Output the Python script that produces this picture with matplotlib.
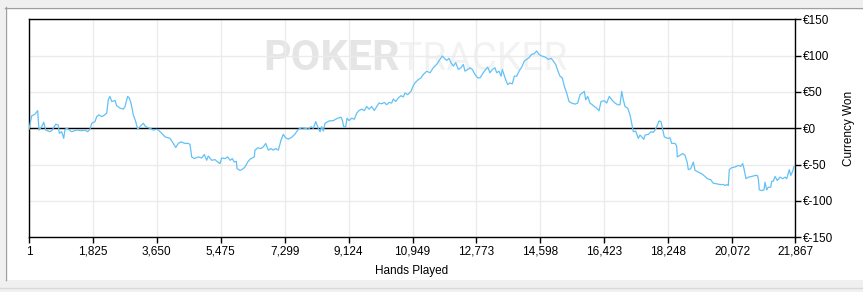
import matplotlib.pyplot as plt
from matplotlib.patches import Rectangle
from matplotlib.lines import Line2D

# hands played vs. cumulative currency won
hands = [1, 78, 172, 249, 286, 363, 421, 478, 600, 666, 763, 837, 866, 934, 992, 1029, 1086, 1220,
         1363, 1505, 1600, 1677, 1742, 1791, 1885, 1934, 1999, 2076, 2122, 2219, 2265, 2313, 2362,
         2456, 2504, 2599, 2693, 2741, 2818, 2864, 2913, 2978, 3047, 3104, 3170, 3264, 3332, 3455,
         3549, 3646, 3692, 3789, 3883, 4026, 4120, 4189, 4263, 4340, 4454, 4548, 4597, 4645, 4720,
         4834, 4931, 5005, 5074, 5119, 5216, 5311, 5388, 5453, 5502, 5596, 5673, 5739, 5804, 5862,
         5919, 5939, 6024, 6090, 6167, 6244, 6310, 6375, 6432, 6452, 6529, 6624, 6689, 6758, 6832,
         6909, 6975, 7043, 7118, 7195, 7260, 7329, 7403, 7500, 7594, 7689, 7786, 7880, 7974, 8051,
         8117, 8185, 8259, 8308, 8356, 8402, 8451, 8565, 8688, 8813, 8907, 8944, 8985, 9042, 9079,
         9136, 9213, 9287, 9356, 9421, 9498, 9572, 9641, 9707, 9784, 9858, 9927, 9992, 10069, 10143,
         10212, 10278, 10355, 10400, 10469, 10543, 10620, 10686, 10734, 10811, 10906, 10954, 11020,
         11114, 11191, 11257, 11354, 11448, 11542, 11639, 11733, 11799, 11856, 11925, 11990, 12047,
         12113, 12182, 12256, 12333, 12399, 12447, 12524, 12590, 12656, 12733, 12810, 12875, 12969,
         13038, 13095, 13161, 13226, 13303, 13352, 13418, 13475, 13512, 13589, 13666, 13732, 13797,
         13855, 13923, 13989, 14066, 14140, 14208, 14274, 14351, 14426, 14494, 14559, 14636, 14731,
         14825, 14902, 14968, 15036, 15093, 15159, 15225, 15282, 15350, 15416, 15493, 15587, 15664,
         15730, 15796, 15853, 15893, 15950, 16015, 16081, 16138, 16206, 16272, 16329, 16424, 16492,
         16566, 16635, 16729, 16806, 16872, 16920, 16966, 17014, 17092, 17157, 17206, 17251, 17320,
         17394, 17443, 17491, 17548, 17585, 17680, 17757, 17822, 17871, 17919, 17985, 18042, 18079,
         18136, 18233, 18299, 18348, 18442, 18490, 18507, 18584, 18661, 18727, 18793, 18821, 18890,
         18964, 19013, 19107, 19204, 19298, 19364, 19461, 19535, 19632, 19726, 19821, 19869, 19917,
         19963, 19992, 20060, 20154, 20249, 20317, 20374, 20411, 20468, 20534, 20631, 20725, 20791,
         20820, 20848, 20917, 20982, 21011, 21059, 21105, 21174, 21202, 21248, 21296, 21362, 21439,
         21516, 21582, 21630, 21705, 21745, 21802, 21839, 21867]
won = [-1.4, 17.1, 19.4, 24.4, -2.4, 2.2, 8.3, -2.4, -4.7, -2.4, 5.6, 4.6, -6.9, -4.7, -13.9, -1.4,
       0.0, -4.7, -2.4, -3.3, -2.4, -4.7, -1.4, 6.9, 9.2, 16.1, 18.5, 16.1, 17.1, 20.8, 39.3, 43.9,
       36.9, 38.3, 31.0, 27.8, 26.4, 30.0, 43.9, 41.7, 34.7, 18.5, 9.2, -1.4, 2.2, 6.9, 2.2, 0.0,
       -2.4, -1.4, -2.4, -6.9, -11.7, -13.9, -20.8, -26.4, -20.8, -18.6, -20.8, -20.8, -22.2, -39.4,
       -41.7, -39.4, -40.8, -36.1, -44.0, -38.1, -44.0, -43.1, -46.4, -48.6, -40.8, -41.7, -39.4,
       -44.0, -41.7, -46.4, -45.4, -55.6, -57.9, -56.5, -53.3, -46.4, -42.6, -40.8, -39.4, -30.1,
       -26.9, -27.8, -25.6, -20.8, -30.1, -27.8, -30.1, -27.8, -30.1, -16.3, -8.3, -13.1, -14.9,
       -12.5, -7.9, -1.4, 0.8, 0.0, -1.4, 2.2, 0.0, 9.2, 0.0, -4.7, 2.2, -3.8, 6.9, 10.1, 10.6,
       13.9, 15.3, 11.5, 2.2, 2.2, 13.9, 10.6, 13.9, 12.5, 20.8, 24.4, 26.4, 24.4, 30.0, 26.4, 30.0,
       24.4, 30.0, 34.7, 33.8, 35.6, 32.4, 35.6, 34.7, 40.3, 36.9, 41.7, 44.9, 43.1, 48.6, 46.3,
       50.8, 56.9, 62.5, 67.1, 69.4, 74.0, 78.6, 76.4, 83.3, 87.9, 94.9, 99.5, 96.3, 93.5, 96.3,
       90.3, 85.6, 90.3, 81.0, 83.3, 87.9, 78.6, 81.0, 83.3, 81.0, 74.0, 69.4, 69.4, 76.4, 81.0,
       84.2, 76.4, 81.0, 83.3, 76.4, 78.6, 71.7, 81.0, 69.4, 60.1, 62.5, 61.1, 71.7, 71.7, 78.6,
       84.2, 92.5, 94.9, 97.2, 101.8, 102.8, 106.4, 101.8, 99.5, 98.1, 94.9, 96.3, 92.5, 87.9, 79.6,
       71.7, 69.4, 57.8, 48.6, 36.9, 34.7, 33.3, 34.7, 46.3, 48.6, 50.8, 39.3, 43.9, 34.7, 32.4,
       30.0, 27.8, 24.0, 36.9, 37.9, 34.7, 43.9, 39.3, 34.7, 32.4, 32.4, 50.8, 39.3, 30.0, 27.8,
       18.5, 6.9, -4.7, -3.8, -13.9, -9.3, -11.7, -15.3, -9.3, -8.3, -4.7, -5.6, -2.4, 2.2, 10.1,
       9.2, 0.8, -11.7, -13.9, -13.1, -20.8, -20.8, -24.6, -39.4, -37.1, -34.7, -37.1, -47.8,
       -56.9, -55.6, -46.4, -57.9, -60.3, -62.5, -66.3, -69.4, -70.8, -75.6, -76.4, -77.4, -77.4,
       -78.8, -77.4, -78.8, -56.9, -54.2, -53.3, -51.0, -52.4, -48.6, -55.6, -69.4, -67.2, -66.3,
       -64.9, -64.9, -69.4, -84.7, -85.7, -84.7, -74.2, -84.7, -81.1, -81.1, -72.8, -72.8, -66.3,
       -71.8, -67.2, -69.4, -67.2, -69.4, -56.9, -64.9, -58.9, -52.4, -53.0]

x_ticks = [1, 1825, 3650, 5475, 7299, 9124, 10949, 12773, 14598, 16423, 18248, 20072, 21867]
x_labels = ["1", "1,825", "3,650", "5,475", "7,299", "9,124", "10,949", "12,773", "14,598",
            "16,423", "18,248", "20,072", "21,867"]
y_ticks = [-150, -100, -50, 0, 50, 100, 150]
y_labels = ["€-150", "€-100", "€-50", "€0", "€50", "€100", "€150"]

plt.rcParams['font.family'] = ['Liberation Sans', 'DejaVu Sans']

W, H = 863, 292
fig = plt.figure(figsize=(W / 100, H / 100), dpi=100, facecolor='#f0f0f0')

# window panel + borders
fig.add_artist(Rectangle((5 / W, 1 - 280 / H), 1, (280 - 7) / H, transform=fig.transFigure,
                         facecolor='white', edgecolor='none', zorder=0))
fig.add_artist(Line2D([5 / W, 1], [1 - 7.5 / H] * 2, transform=fig.transFigure, color='#a0a0a0', lw=1))
fig.add_artist(Line2D([5.5 / W] * 2, [1 - 7 / H, 1 - 280 / H], transform=fig.transFigure,
                      color='#a0a0a0', lw=1))
fig.add_artist(Line2D([0, 1], [1 - 287.5 / H] * 2, transform=fig.transFigure, color='#d9d9d9', lw=1))

ax = fig.add_axes([29 / W, 1 - 237.3 / H, (795 - 29) / W, (237.3 - 19.3) / H])
ax.set_facecolor('none')

# watermark
ax.text(263 / W, 1 - 70 / H, "POKER", transform=fig.transFigure, fontsize=31, fontweight='bold',
        family='Roboto', color='#e5e5e5', zorder=0.1, va='baseline')
ax.text(399 / W, 1 - 70 / H, "TRACKER", transform=fig.transFigure, fontsize=28,
        family='Roboto', color='#f2f2f2', zorder=0.1, va='baseline')

ax.plot(hands, won, color='#62c1f7', lw=0.9, zorder=3)
ax.axhline(0, color='black', lw=1, zorder=2)

ax.set_xlim(1, 21867)
ax.set_ylim(-150, 150)
ax.set_xticks(x_ticks)
ax.set_xticklabels(x_labels)
ax.set_yticks(y_ticks)
ax.set_yticklabels(y_labels)
ax.yaxis.tick_right()
ax.yaxis.set_label_position('right')
ax.tick_params(axis='both', direction='out', length=4, width=1, labelsize=8.5, colors='black', pad=2)
ax.grid(True, color='#ebebeb', lw=1)
ax.set_axisbelow(True)
for s in ax.spines.values():
    s.set_color('black')
    s.set_linewidth(1)

ax.set_xlabel("Hands Played", fontsize=8.5, labelpad=5)
ax.set_ylabel("Currency Won", fontsize=8.5, labelpad=7)

fig.savefig("out.png", dpi=100, facecolor=fig.get_facecolor())
